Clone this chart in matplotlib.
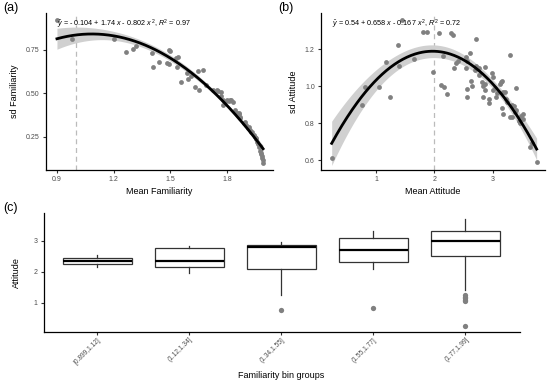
import numpy as np
import matplotlib.pyplot as plt

plt.rcParams['font.family'] = ['Liberation Sans', 'DejaVu Sans']
plt.rcParams['mathtext.fontset'] = 'custom'
plt.rcParams['mathtext.rm'] = 'Liberation Sans'
plt.rcParams['mathtext.it'] = 'Liberation Sans:italic'

# panel (a): mean vs sd familiarity
fam_mean = [0.90, 0.98, 1.20, 1.265, 1.30, 1.32, 1.40, 1.41, 1.44, 1.49, 1.50, 1.49,
            1.48, 1.53, 1.54, 1.533, 1.556, 1.586, 1.595, 1.607, 1.63, 1.648, 1.65,
            1.671, 1.69, 1.727, 1.745, 1.75, 1.768, 1.77, 1.777, 1.78, 1.79, 1.80,
            1.81, 1.815, 1.82, 1.83, 1.84, 1.85, 1.86, 1.865, 1.868, 1.87, 1.89,
            1.895, 1.90, 1.91, 1.915, 1.92, 1.925, 1.93, 1.94, 1.945, 1.95, 1.955,
            1.96, 1.965, 1.97, 1.975, 1.975, 1.98, 1.98, 1.985, 1.985, 1.99, 1.99]
fam_sd = [0.92, 0.81, 0.81, 0.737, 0.754, 0.773, 0.73, 0.65, 0.677, 0.75, 0.74, 0.67,
          0.674, 0.70, 0.71, 0.65, 0.563, 0.617, 0.58, 0.597, 0.536, 0.63, 0.517,
          0.636, 0.55, 0.52, 0.517, 0.515, 0.483, 0.506, 0.435, 0.464, 0.45, 0.46,
          0.455, 0.46, 0.462, 0.45, 0.406, 0.39, 0.39, 0.38, 0.365, 0.36, 0.33,
          0.334, 0.32, 0.30, 0.31, 0.29, 0.28, 0.28, 0.26, 0.25, 0.24, 0.245,
          0.22, 0.21, 0.19, 0.17, 0.20, 0.15, 0.16, 0.13, 0.14, 0.12, 0.10]
fam_coef = [-0.104, 1.74, -0.802]
fam_eq = r"$\hat{y}$ = - 0.104 + 1.74 $x$ - 0.802 $x^{\,2}$, $R^2$ = 0.97"

# panel (b): mean vs sd attitude
att_mean = [0.243, 0.766, 0.82, 1.05, 1.17, 1.24, 1.37, 1.39, 1.45, 1.655, 1.81, 1.88,
            1.97, 2.08, 2.15, 2.12, 2.17, 2.21, 2.29, 2.32, 2.34, 2.37, 2.40, 2.54,
            2.55, 2.54, 2.55, 2.55, 2.61, 2.62, 2.69, 2.72, 2.72, 2.76, 2.76, 2.87,
            2.81, 2.83, 2.86, 2.87, 2.84, 2.93, 2.94, 2.98, 3.00, 3.00, 3.03, 3.05,
            3.12, 3.14, 3.15, 3.17, 3.15, 3.17, 3.22, 3.24, 3.29, 3.29, 3.33, 3.33,
            3.36, 3.40, 3.38, 3.40, 3.49, 3.51, 3.52, 3.45, 3.63, 3.67, 3.75, 3.08,
            3.20, 3.46, 2.64]
att_sd = [0.612, 0.896, 0.996, 0.996, 1.128, 0.942, 1.22, 1.11, 1.357, 1.144, 1.29, 1.29,
          1.077, 1.285, 1.162, 1.005, 0.997, 0.955, 1.285, 1.276, 1.095, 1.125, 1.134, 1.155,
          1.135, 1.10, 0.982, 0.942, 1.18, 1.027, 1.086, 1.252, 1.11, 1.10, 1.06, 1.104,
          1.023, 1.00, 1.01, 0.98, 0.94, 0.93, 0.91, 1.07, 1.05, 0.98, 0.99, 0.94,
          1.01, 1.02, 1.025, 0.97, 0.88, 0.85, 0.93, 0.915, 1.17, 0.83, 0.83, 0.90,
          0.89, 0.988, 0.86, 0.87, 0.84, 0.82, 0.85, 0.81, 0.672, 0.69, 0.59, 0.96,
          0.97, 0.80, 1.00]
att_coef = [0.54, 0.658, -0.167]
att_eq = r"$\hat{y}$ = 0.54 + 0.658 $x$ - 0.167 $x^{\,2}$, $R^2$ = 0.72"

# panel (c): boxplot stats per familiarity bin
bins = ["[0.899,1.12]", "(1.12,1.34]", "(1.34,1.55]", "(1.55,1.77]", "(1.77,1.99]"]
q1 = [2.27, 2.15, 2.08, 2.31, 2.50]
med = [2.36, 2.36, 2.81, 2.70, 3.00]
q3 = [2.45, 2.76, 2.86, 3.09, 3.32]
wlo = [2.17, 1.97, 1.27, 2.09, 1.41]
whi = [2.54, 2.84, 2.97, 3.32, 3.71]
outliers = [[], [], [0.76], [0.85], [1.25, 1.20, 1.15, 1.10, 1.05, 0.25]]

PT_COL = '#808080'
TICK_COL = '#4d4d4d'


def style(ax):
    for s in ['top', 'right']:
        ax.spines[s].set_visible(False)
    for s in ['left', 'bottom']:
        ax.spines[s].set_linewidth(0.9)
        ax.spines[s].set_color('black')
    ax.tick_params(colors='#333333', labelcolor=TICK_COL, labelsize=5, length=2.5, width=0.8, pad=2)


def quad_panel(ax, x, y, coef, eq, vline):
    x = np.asarray(x)
    y = np.asarray(y)
    X = np.column_stack([np.ones_like(x), x, x ** 2])
    beta = np.array(coef)
    resid = y - X @ beta
    sigma2 = resid @ resid / (len(x) - 3)
    cov = sigma2 * np.linalg.inv(X.T @ X)
    xg = np.linspace(x.min(), x.max(), 200)
    G = np.column_stack([np.ones_like(xg), xg, xg ** 2])
    fit = G @ beta
    se = np.sqrt(np.einsum('ij,jk,ik->i', G, cov, G))
    ax.axvline(vline, color='#bbbbbb', ls=(0, (4, 3)), lw=0.9, zorder=1)
    ax.fill_between(xg, fit - 1.99 * se, fit + 1.99 * se, color='#d0d0d0', lw=0, zorder=2)
    ax.scatter(x, y, s=12, color=PT_COL, lw=0, zorder=3)
    ax.plot(xg, fit, color='black', lw=2, zorder=4)
    ax.text(0.05, 0.925, eq, transform=ax.transAxes, fontsize=5.2, va='center', ha='left', zorder=5)
    style(ax)


fig = plt.figure(figsize=(5.5, 3.82), dpi=100)

ax1 = fig.add_axes([0.0836, 0.555, 0.413, 0.411])
quad_panel(ax1, fam_mean, fam_sd, fam_coef, fam_eq, 1.0)
ax1.set_xlim(0.842, 2.043)
ax1.set_ylim(0.061, 0.96)
ax1.set_xticks([0.9, 1.2, 1.5, 1.8])
ax1.set_xticklabels(['0.9', '1.2', '1.5', '1.8'])
ax1.set_yticks([0.25, 0.50, 0.75])
ax1.set_yticklabels(['0.25', '0.50', '0.75'])
ax1.set_xlabel('Mean Familiarity', fontsize=6.5, labelpad=3)
ax1.set_ylabel('sd Familiarity', fontsize=6.5, labelpad=5)

ax2 = fig.add_axes([0.5836, 0.555, 0.407, 0.411])
quad_panel(ax2, att_mean, att_sd, att_coef, att_eq, 2.0)
ax2.set_xlim(0.06, 3.89)
ax2.set_ylim(0.546, 1.395)
ax2.set_xticks([1, 2, 3])
ax2.set_yticks([0.6, 0.8, 1.0, 1.2])
ax2.set_yticklabels(['0.6', '0.8', '1.0', '1.2'])
ax2.set_xlabel('Mean Attitude', fontsize=6.5, labelpad=3)
ax2.set_ylabel('sd Attitude', fontsize=6.5, labelpad=5)

ax3 = fig.add_axes([0.08, 0.131, 0.865, 0.3115])
stats = []
for i in range(len(bins)):
    stats.append(dict(q1=q1[i], med=med[i], q3=q3[i], whislo=wlo[i], whishi=whi[i],
                      fliers=outliers[i], label=bins[i]))
ax3.bxp(stats, positions=range(1, len(bins) + 1), widths=0.75, showcaps=False,
        patch_artist=True,
        boxprops=dict(facecolor='white', edgecolor='#333333', lw=0.9),
        medianprops=dict(color='black', lw=1.6),
        whiskerprops=dict(color='#333333', lw=0.9),
        flierprops=dict(marker='o', markerfacecolor=PT_COL, markeredgecolor='none', markersize=3.8))
ax3.set_xlim(0.42, 5.59)
ax3.set_ylim(0.065, 3.9)
ax3.set_yticks([1, 2, 3])
style(ax3)
ax3.tick_params(axis='x', length=2, pad=1)
ax3.set_xticklabels(bins, rotation=45, ha='right', rotation_mode='anchor', fontsize=4.8)
ax3.set_ylabel('Attitude', fontsize=6.5, labelpad=9)
fig.text(0.08 + 0.865 * (3 - 0.42) / (5.59 - 0.42), 0.018, 'Familiarity bin groups',
         fontsize=6.5, ha='center', va='center')

fig.text(0.006, 0.98, '(a)', fontsize=9, va='center')
fig.text(0.506, 0.98, '(b)', fontsize=9, va='center')
fig.text(0.006, 0.455, '(c)', fontsize=9, va='center')

fig.savefig('out.png', dpi=100)
